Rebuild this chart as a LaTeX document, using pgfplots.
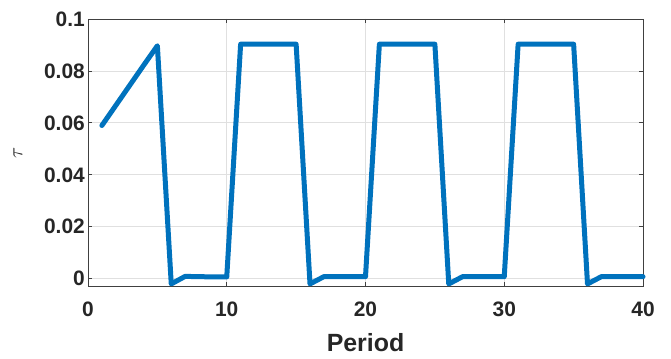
\documentclass[border=0pt]{standalone}
\usepackage{fontspec}
\setmainfont{Liberation Sans}
\usepackage{pgfplots}
\pgfplotsset{compat=1.18}
\definecolor{mblue}{RGB}{0,114,189}
\begin{document}
\begin{tikzpicture}[x=1bp,y=1bp]
\begin{axis}[
  name=main,
  scale only axis,
  at={(0,0)}, anchor=south west,
  width=555bp, height=267bp,
  xmin=0, xmax=40, ymin=-0.0028, ymax=0.1,
  xtick={0,10,20,30,40},
  ytick={0,0.02,0.04,0.06,0.08,0.1},
  yticklabels={0,0.02,0.04,0.06,0.08,0.1},
  /pgf/number format/assume math mode=true,
  tick label style={font=\fontsize{21}{24}\selectfont\bfseries, text=black!85},
  xticklabel style={anchor=center, yshift=-23bp, inner sep=0pt},
  yticklabel style={anchor=east, xshift=-3bp, inner sep=0pt},
  xlabel={Period},
  xlabel style={at={(277.5bp,-57bp)}, anchor=center, inner sep=0pt,
    font=\fontsize{25}{28}\selectfont\bfseries, text=black!85},
  grid=major,
  major grid style={draw=black!12, line width=0.8bp},
  tick align=inside,
  major tick length=4bp,
  tick style={draw=black!75, line width=0.8bp},
  axis line style={draw=black!75, line width=0.8bp},
  clip=false,
]
\addplot[mblue, line width=5bp, line join=round, line cap=round] coordinates {
(1,0.059) (2,0.0667) (3,0.0744) (4,0.0821) (5,0.0897)
(6,-0.0020) (7,0.0009) (8,0.0008) (9,0.0007) (10,0.0007)
(11,0.0903) (12,0.0903) (13,0.0903) (14,0.0903) (15,0.0903)
(16,-0.0020) (17,0.0008) (18,0.0008) (19,0.0008) (20,0.0008)
(21,0.0903) (22,0.0903) (23,0.0903) (24,0.0903) (25,0.0903)
(26,-0.0020) (27,0.0008) (28,0.0008) (29,0.0008) (30,0.0008)
(31,0.0903) (32,0.0903) (33,0.0903) (34,0.0903) (35,0.0903)
(36,-0.0020) (37,0.0008) (38,0.0008) (39,0.0008) (40,0.0008)
};
\end{axis}
% y-axis label, rotated as usual
\node[rotate=90, inner sep=0pt, font=\fontsize{22}{26}\selectfont, text=black!85]
  at (-70bp,133bp) {$\tau$};
\pgfresetboundingbox
\useasboundingbox (-88bp,-73bp) rectangle (583bp,286bp);
\end{tikzpicture}
\end{document}
